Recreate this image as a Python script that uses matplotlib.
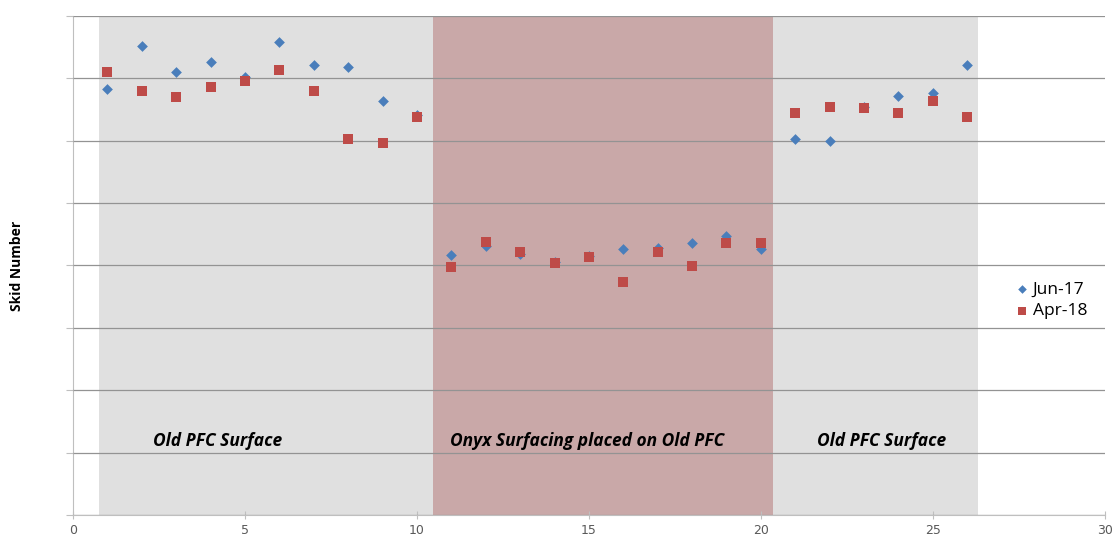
import matplotlib.pyplot as plt

# section numbers along the road
sections = list(range(1, 27))

jun17 = [68.3, 75.2, 71.0, 72.7, 70.2, 75.8, 72.2, 71.9, 66.4, 64.2,
         41.7, 43.2, 41.8, 40.5, 41.5, 42.6, 42.8, 43.6, 44.8, 42.7,
         60.2, 59.9, 65.4, 67.2, 67.6, 72.1]
apr18 = [71.0, 68.0, 67.0, 68.6, 69.5, 71.3, 67.9, 60.3, 59.7, 63.8,
         39.8, 43.8, 42.2, 40.4, 41.3, 37.3, 42.1, 39.9, 43.6, 43.6,
         64.5, 65.4, 65.3, 64.4, 66.4, 63.8]

# shaded sections: (start, end, colour)
regions = [
    (0.76, 10.47, "#e0e0e0"),
    (10.47, 20.35, "#c9a8a8"),
    (20.35, 26.3, "#e0e0e0"),
]
# section captions: (x centre, text)
captions = [
    (4.2, "Old PFC Surface"),
    (14.95, "Onyx Surfacing placed on Old PFC"),
    (23.5, "Old PFC Surface"),
]

fig = plt.figure(figsize=(11.16, 5.42), dpi=100)
ax = fig.add_axes([0.0654, 0.0498, 0.9246, 0.9207])

for x0, x1, color in regions:
    ax.axvspan(x0, x1, color=color, zorder=0, lw=0)
for xc, label in captions:
    ax.text(xc, 11.8, label, ha="center", va="center",
            fontsize=12.5, fontweight="bold", fontstyle="italic",
            family="Open Sans", color="black", zorder=3)

ax.set_xlim(0, 30)
ax.set_ylim(0, 80)
ax.set_xticks(range(0, 31, 5))
ax.set_yticks(range(0, 81, 10))
ax.set_yticklabels([])
ax.grid(axis="y", color="#939393", lw=0.9, zorder=1)
ax.set_axisbelow(False)

ax.scatter(sections, jun17, marker="D", s=30, color="#4a7ebb", zorder=4,
           label="Jun-17", linewidths=0)
ax.scatter(sections, apr18, marker="s", s=55, color="#be4b48", zorder=5,
           label="Apr-18", linewidths=0)

for s in ["top", "right"]:
    ax.spines[s].set_visible(False)
ax.spines["left"].set_color("#bfbfbf")
ax.spines["bottom"].set_color("#bfbfbf")
ax.tick_params(axis="both", colors="#bfbfbf", length=5, labelcolor="#595959",
               labelsize=9)
ax.tick_params(axis="x", direction="inout", length=6)

ax.set_ylabel("Skid Number", fontsize=10, fontweight="bold", family="Open Sans")
ax.yaxis.set_label_coords(-0.047, 0.5)

leg = ax.legend(loc="center left", bbox_to_anchor=(0.905, 0.43), frameon=False,
                fontsize=12.5, handletextpad=0.1, labelspacing=0.3,
                handlelength=1.0, borderaxespad=0, markerscale=0.8)
for t in leg.get_texts():
    t.set_family("Open Sans")

fig.savefig("out.png", dpi=100)
